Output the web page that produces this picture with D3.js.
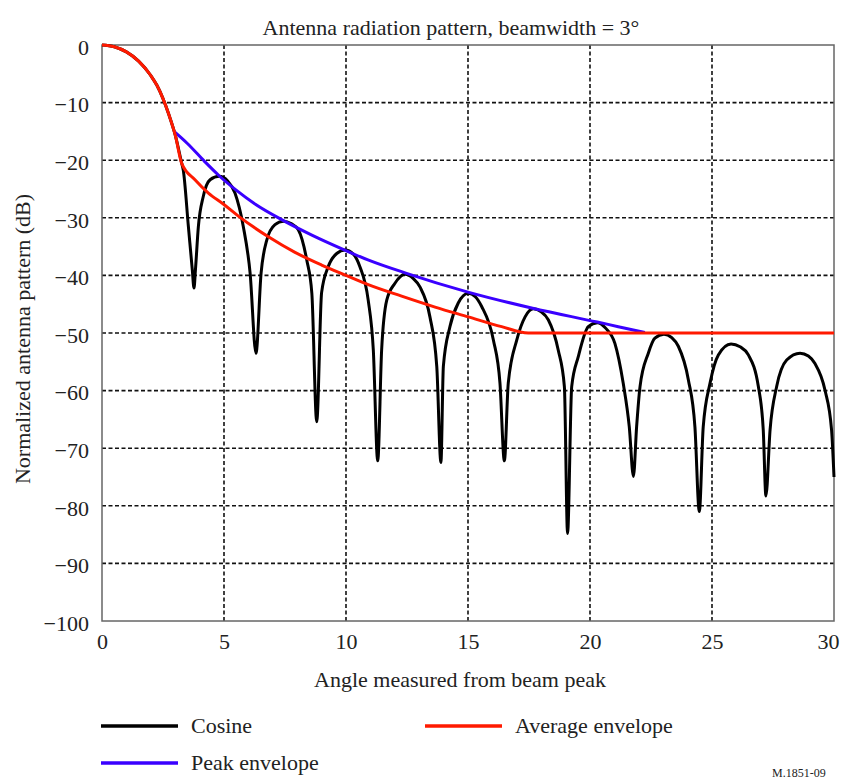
<!DOCTYPE html>
<html>
<head>
<meta charset="utf-8">
<script src="https://cdn.jsdelivr.net/npm/d3@7"></script>
<style>
  body { margin: 0; background: #fff; }
  text { font-family: "Liberation Serif", "Times New Roman", serif; fill: #222; }
</style>
</head>
<body>
<div id="chart"></div>
<script>
// Values (angle in degrees, gain in dB)
const cosineAngle = [0, 0.5, 1.0, 1.5, 2.0, 2.25, 2.5, 2.75, 3.0, 3.27, 3.33, 3.54, 3.7, 3.77, 3.83, 3.95, 4.15, 4.43, 4.8, 5.15, 5.45, 5.79, 6.07, 6.31, 6.52, 6.75, 7.09, 7.43, 7.75, 8.05, 8.39, 8.6, 8.8, 9.0, 9.27, 9.62, 9.96, 10.3, 10.57, 10.91, 11.12, 11.3, 11.46, 11.67, 12.0, 12.42, 12.75, 13.03, 13.44, 13.72, 13.89, 13.99, 14.26, 14.6, 15.01, 15.3, 15.56, 16.04, 16.31, 16.49, 16.65, 17.0, 17.34, 17.68, 18.0, 18.29, 18.7, 18.95, 19.08, 19.25, 19.52, 19.93, 20.3, 20.65, 21.02, 21.36, 21.61, 21.78, 21.91, 22.05, 22.39, 22.66, 23.03, 23.35, 23.62, 24.03, 24.3, 24.48, 24.64, 24.92, 25.26, 25.78, 26.15, 26.49, 26.9, 27.1, 27.21, 27.38, 27.65, 28.06, 28.61, 28.95, 29.22, 29.63, 29.9, 30];
const cosineGain = [0, -0.3, -1.2, -2.8, -5.3, -7.0, -9.3, -12.2, -15.6, -20.6, -21.7, -31.5, -39, -42.2, -39, -31.5, -26.3, -23.4, -22.8, -23.6, -25.7, -31.5, -39.6, -53.5, -39.6, -33.9, -31.2, -30.6, -31.0, -32.1, -37.3, -43.1, -65.4, -43, -38.5, -36.2, -35.6, -36.3, -38.5, -44.3, -53, -72.2, -53, -44.3, -41.4, -39.8, -40.5, -42, -47.2, -55.8, -72.5, -55.8, -48.9, -44.8, -43.1, -43.7, -45.4, -51.2, -58.7, -72.2, -58.7, -51.2, -47.2, -45.8, -46.3, -47.7, -53, -59.3, -84.8, -59.3, -54.1, -48.9, -48.2, -49.2, -51.8, -58.7, -66.3, -74.9, -66.3, -59.3, -53.5, -50.9, -50.2, -50.8, -52.3, -58.1, -66.3, -81, -66.3, -58.7, -53.8, -51.9, -52.4, -53.8, -59.3, -66.8, -78.3, -66.8, -59.3, -54.7, -53.5, -54.0, -55.3, -59.9, -66.8, -75];

const peakAngle = [2.95, 3.5, 4.2, 4.8, 5.5, 6.27, 7.4, 8.6, 9.95, 10.9, 12.45, 15.0, 17.65, 20.3, 21.16, 22.25];
const peakGain = [-15.0, -17.1, -20.2, -22.7, -25.2, -27.6, -30.4, -33.0, -35.6, -37.3, -39.6, -42.9, -45.7, -48.1, -48.9, -49.9];

const avgAngle = [0, 0.5, 1.0, 1.5, 2.0, 2.25, 2.5, 2.75, 3.0, 3.27, 3.81, 4.36, 4.97, 5.59, 6.82, 7.91, 9.0, 10.0, 10.91, 12.28, 13.65, 15.01, 16.38, 17.47, 30];
const avgGain = [0, -0.3, -1.2, -2.8, -5.3, -7.0, -9.3, -12.2, -15.6, -20.6, -23.4, -25.7, -27.6, -29.7, -33.3, -36.0, -38.2, -40.0, -41.6, -43.6, -45.5, -47.2, -48.9, -50, -50];

const xTicks = [0, 5, 10, 15, 20, 25, 30];
const yTicks = [0, -10, -20, -30, -40, -50, -60, -70, -80, -90, -100];

const legendNames = ["Cosine", "Average envelope", "Peak envelope"];
const colors = { cosine: "#000", average: "#ff1a00", peak: "#3a00ff" };

// Chart box
const W = 842, H = 779;
const plot = { left: 102, right: 834, top: 45, bottom: 621 };

const svg = d3.select("#chart").append("svg")
  .attr("width", W)
  .attr("height", H);

svg.append("rect").attr("width", W).attr("height", H).attr("fill", "#fff");

const x = d3.scaleLinear().domain([0, 30]).range([plot.left, plot.right]);
const y = d3.scaleLinear().domain([0, -100]).range([plot.top, plot.bottom]);

const fmt = d => d < 0 ? "\u2212" + Math.abs(d) : String(d);

// Dashed grid
svg.append("g")
  .selectAll("line")
  .data(xTicks.slice(1, -1))
  .enter().append("line")
  .attr("x1", d => x(d)).attr("x2", d => x(d))
  .attr("y1", plot.top).attr("y2", plot.bottom)
  .attr("stroke", "#111").attr("stroke-width", 1.6)
  .attr("stroke-dasharray", "4,2.5");

svg.append("g")
  .selectAll("line")
  .data(yTicks.slice(1, -1))
  .enter().append("line")
  .attr("x1", plot.left).attr("x2", plot.right)
  .attr("y1", d => y(d)).attr("y2", d => y(d))
  .attr("stroke", "#111").attr("stroke-width", 1.6)
  .attr("stroke-dasharray", "4,2.5");

// Frame
svg.append("rect")
  .attr("x", plot.left).attr("y", plot.top)
  .attr("width", plot.right - plot.left)
  .attr("height", plot.bottom - plot.top)
  .attr("fill", "none")
  .attr("stroke", "#666").attr("stroke-width", 1.5);

// Axes (labels only, the grid does the rest)
const xAxis = svg.append("g")
  .attr("transform", `translate(0,${plot.bottom})`)
  .call(d3.axisBottom(x).tickValues(xTicks).tickSize(0).tickPadding(12).tickFormat(fmt));
const yAxis = svg.append("g")
  .attr("transform", `translate(${plot.left},0)`)
  .call(d3.axisLeft(y).tickValues(yTicks).tickSize(0).tickPadding(13).tickFormat(fmt));

[xAxis, yAxis].forEach(a => {
  a.select(".domain").remove();
  a.selectAll("text")
    .attr("font-family", "Liberation Serif, Times New Roman, serif")
    .attr("font-size", 22)
    .attr("fill", "#222");
});
yAxis.selectAll("text").attr("dy", "0.42em");
// last label pulled in a little so it stays inside the page
xAxis.selectAll("text").filter(d => d === 30).attr("dx", -6);

// Curves
const line = d3.line()
  .x(d => x(d[0]))
  .y(d => y(d[1]))
  .curve(d3.curveMonotoneX);

const cosine = cosineAngle.map((a, i) => [a, cosineGain[i]]);
const peak = peakAngle.map((a, i) => [a, peakGain[i]]);
const average = avgAngle.map((a, i) => [a, avgGain[i]]);

svg.append("path").datum(cosine)
  .attr("d", line).attr("fill", "none")
  .attr("stroke", colors.cosine).attr("stroke-width", 3)
  .attr("stroke-linejoin", "round");

svg.append("path").datum(peak)
  .attr("d", line).attr("fill", "none")
  .attr("stroke", colors.peak).attr("stroke-width", 3);

svg.append("path").datum(average)
  .attr("d", line).attr("fill", "none")
  .attr("stroke", colors.average).attr("stroke-width", 3);

// Titles
svg.append("text")
  .attr("x", 451).attr("y", 35)
  .attr("text-anchor", "middle")
  .attr("font-size", 22)
  .text("Antenna radiation pattern, beamwidth = 3\u00b0");

svg.append("text")
  .attr("x", 460).attr("y", 687)
  .attr("text-anchor", "middle")
  .attr("font-size", 22)
  .text("Angle measured from beam peak");

svg.append("text")
  .attr("transform", `translate(30,${(plot.top + plot.bottom) / 2 + 6}) rotate(-90)`)
  .attr("text-anchor", "middle")
  .attr("font-size", 22)
  .text("Normalized antenna pattern (dB)");

// Legend
const legendItems = [
  { name: legendNames[0], color: colors.cosine, lx: 101, ly: 726 },
  { name: legendNames[1], color: colors.average, lx: 425, ly: 726 },
  { name: legendNames[2], color: colors.peak, lx: 101, ly: 763 }
];

const legend = svg.append("g");
legendItems.forEach(item => {
  legend.append("line")
    .attr("x1", item.lx).attr("x2", item.lx + 77)
    .attr("y1", item.ly).attr("y2", item.ly)
    .attr("stroke", item.color).attr("stroke-width", 3.5);
  legend.append("text")
    .attr("x", item.lx + 90).attr("y", item.ly + 7)
    .attr("font-size", 22)
    .text(item.name);
});

// Figure reference in the bottom right corner
svg.append("text")
  .attr("x", 772).attr("y", 777)
  .attr("font-size", 12)
  .text("M.1851-09");
</script>
</body>
</html>
